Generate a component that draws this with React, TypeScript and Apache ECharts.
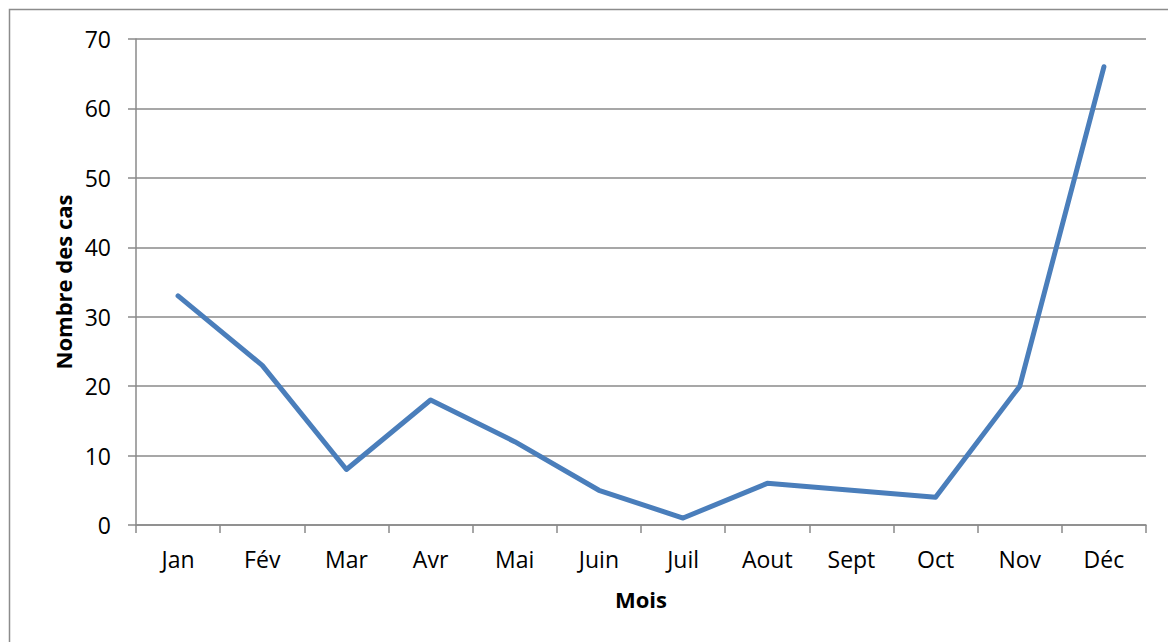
import React, { useEffect, useRef } from "react";
import * as echarts from "echarts";

// Monthly case counts
const months = ["Jan", "Fév", "Mar", "Avr", "Mai", "Juin", "Juil", "Aout", "Sept", "Oct", "Nov", "Déc"];
const cases = [33, 23, 8, 18, 12, 5, 1, 6, 5, 4, 20, 66];

const yTitle = "Nombre des cas";
const xTitle = "Mois";

const FONT = "'Open Sans', 'Noto Sans', sans-serif";
const GRID_GRAY = "#8a8a8a";

export default function App() {
  const ref = useRef<HTMLDivElement>(null);

  useEffect(() => {
    if (!ref.current) return;
    const chart = echarts.init(ref.current, null, { renderer: "svg" });
    chart.setOption({
      animation: false,
      backgroundColor: "#ffffff",
      textStyle: { fontFamily: FONT },
      grid: { left: 136, right: 22, top: 39, bottom: 117, containLabel: false },
      graphic: [
        {
          type: "rect",
          shape: { x: 9.5, y: 9.5, width: 1200, height: 700 },
          style: { fill: "none", stroke: "#8c8c8c", lineWidth: 1.5 },
          silent: true,
        },
      ],
      xAxis: {
        type: "category",
        data: months,
        boundaryGap: true,
        name: xTitle,
        nameLocation: "middle",
        nameGap: 63,
        nameTextStyle: { fontFamily: FONT, fontSize: 22, fontWeight: "bold", color: "#000" },
        axisLine: { lineStyle: { color: GRID_GRAY, width: 1.5 } },
        axisTick: { show: true, alignWithLabel: false, length: 8, lineStyle: { color: GRID_GRAY, width: 1.5 } },
        axisLabel: { fontFamily: FONT, fontSize: 23, color: "#000", margin: 22, interval: 0 },
        splitLine: { show: false },
      },
      yAxis: {
        type: "value",
        min: 0,
        max: 70,
        interval: 10,
        name: yTitle,
        nameLocation: "middle",
        nameGap: 62,
        nameRotate: 90,
        nameTextStyle: { fontFamily: FONT, fontSize: 22, fontWeight: "bold", color: "#000" },
        axisLine: { show: true, lineStyle: { color: GRID_GRAY, width: 1.5 } },
        axisTick: { show: true, length: 8, lineStyle: { color: GRID_GRAY, width: 1.5 } },
        axisLabel: { fontFamily: FONT, fontSize: 23, color: "#000", margin: 25 },
        splitLine: { show: true, lineStyle: { color: GRID_GRAY, width: 1.5 } },
      },
      series: [
        {
          type: "line",
          data: cases,
          symbol: "none",
          lineStyle: { color: "#4a7ebb", width: 5, cap: "round", join: "round" },
        },
      ],
    });
    return () => chart.dispose();
  }, []);

  return (
    <div
      ref={ref}
      style={{ position: "absolute", left: 0, top: 0, width: 1168, height: 642 }}
    />
  );
}
